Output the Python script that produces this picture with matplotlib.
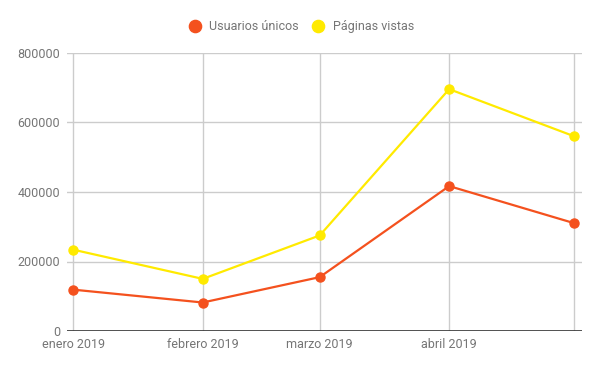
import matplotlib
matplotlib.use("Agg")
import matplotlib.pyplot as plt
import matplotlib.dates as mdates
import numpy as np

plt.rcParams['font.family'] = ['Roboto', 'DejaVu Sans']

months = ["2019-01-01", "2019-02-01", "2019-03-01", "2019-04-01", "2019-05-01"]
tick_labels = ["enero 2019", "febrero 2019", "marzo 2019", "abril 2019", ""]
usuarios = [119000, 82000, 155000, 417000, 310000]
paginas = [234000, 150000, 275000, 696000, 560000]
series_names = ["Usuarios únicos", "Páginas vistas"]
colors = ["#F4511E", "#FFEA00"]
y_ticks = [0, 200000, 400000, 600000, 800000]

dates = np.array(months, dtype="datetime64[D]")
x = mdates.date2num(dates.astype("O"))

W, H = 600, 371
fig = plt.figure(figsize=(W/100, H/100), dpi=100)
ax = fig.add_axes([67/W, (H-331)/H, (582-67)/W, (331-53)/H])

text_color = "#757575"
grid_color = "#CCCCCC"

for vals, c in zip([usuarios, paginas], colors):
    ax.plot(x, vals, color=c, lw=1.6, marker="o", ms=6.5, zorder=3, clip_on=False)

ax.set_xlim(x[0] - 1.5, x[-1] + 1.8)
ax.set_ylim(0, 800000)
ax.set_yticks(y_ticks)
ax.set_yticklabels([str(v) for v in y_ticks])
ax.set_xticks(x)
ax.set_xticklabels(tick_labels)

for v in y_ticks[1:]:
    ax.axhline(v, color=grid_color, lw=1, zorder=1)
for xv in x:
    ax.axvline(xv, color=grid_color, lw=1, zorder=1)
ax.axhline(0, color="#333333", lw=1.2, zorder=2)

for s in ax.spines.values():
    s.set_visible(False)
ax.tick_params(axis="both", length=0, colors=text_color, labelsize=9)
ax.tick_params(axis="y", pad=5)
ax.tick_params(axis="x", pad=5)

# legend drawn manually (Google Charts style, top)
leg_y = 1 - 26.3/H
marker_px = [195, 318]
text_px = [209, 333]
for name, c, mx, tx in zip(series_names, colors, marker_px, text_px):
    fig.add_artist(plt.Line2D([mx/W], [leg_y], marker="o", ms=8.8, color=c,
                              linestyle="none", transform=fig.transFigure))
    fig.text(tx/W, leg_y, name, color=text_color, fontsize=9, ha="left", va="center")

fig.savefig("out.png", dpi=100)
